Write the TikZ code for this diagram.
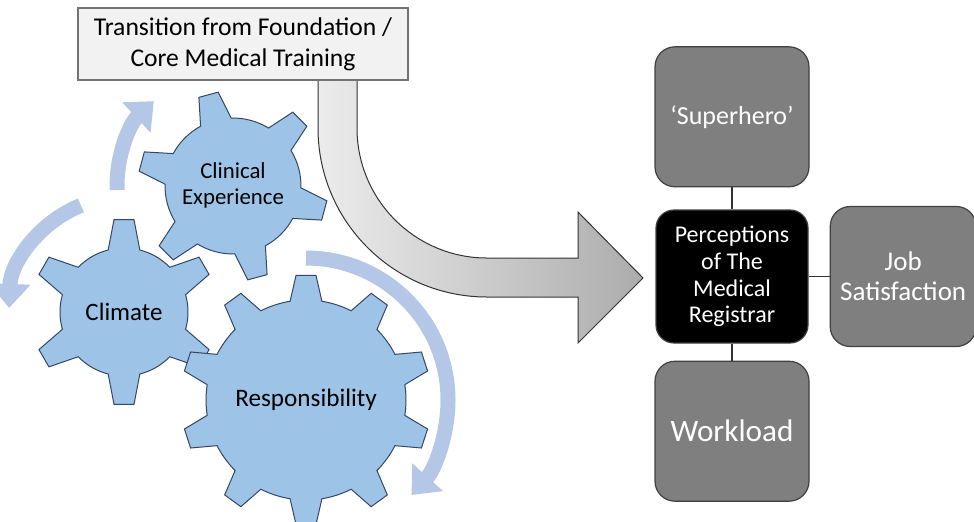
\documentclass[tikz,border=0pt]{standalone}
\usepackage{fontspec}
\setmainfont{Carlito}
\usepackage{tikz}
\usetikzlibrary{arrows.meta,positioning}

\definecolor{gearblue}{RGB}{157,195,230}
\definecolor{gearline}{RGB}{52,72,102}
\definecolor{turnblue}{RGB}{180,199,231}
\definecolor{themegray}{RGB}{127,127,127}
\definecolor{headgray}{RGB}{242,242,242}

\tikzset{
	gear/.style={fill=gearblue, draw=gearline, line width=0.5pt},
	geartext/.style={text=black, align=center, inner sep=0pt},
	turnarrow/.style={turnblue, line width=7.5pt, -{Triangle[width=20pt,length=12pt]}},
	theme/.style={rounded corners=10pt, fill=themegray, draw=black!75, line width=0.6pt,
		text=white, align=center, minimum width=77pt, minimum height=70pt, inner sep=2pt},
	link/.style={draw=black!80, line width=0.6pt}
}

% center x, center y, teeth, root radius, tip radius, rotation
\newcommand{\drawgear}[6]{
	\pgfmathsetmacro{\gstep}{360/#3}
	\pgfmathsetmacro{\gb}{deg(16/#4)}
	\pgfmathsetmacro{\gt}{deg(10/#5)}
	\pgfmathtruncatemacro{\glast}{#3-1}
	\begin{scope}[shift={(#1,#2)}]
		\draw[gear] ({#6-\gb}:#4)
		\foreach \i in {0,...,\glast} {
			-- ({#6+\i*\gstep-\gb}:#4) -- ({#6+\i*\gstep-\gt}:#5)
			-- ({#6+\i*\gstep+\gt}:#5) -- ({#6+\i*\gstep+\gb}:#4)
			arc[start angle={#6+\i*\gstep+\gb}, end angle={#6+(\i+1)*\gstep-\gb}, radius=#4]
		} -- cycle;
	\end{scope}
}

\begin{document}
\begin{tikzpicture}[x=0.5pt,y=0.5pt]
	\useasboundingbox (0,0) rectangle (974,-521);

	% curved transition arrow
	\shadedraw[left color=gray!15, right color=gray!65, draw=black!80, line width=0.5pt]
		(318,-70) -- (318,-128) arc[start angle=180, end angle=270, radius=169]
		-- (578,-297) -- (578,-343) -- (643,-278) -- (578,-212) -- (578,-258)
		-- (487,-258) arc[start angle=270, end angle=180, radius=130] -- (357,-70) -- cycle;

	\node[fill=headgray, draw=black!55, line width=0.6pt, minimum width=165pt, minimum height=36pt,
		align=center, inner sep=0pt, font=\fontsize{12.8}{15.5}\selectfont] (trans) at (243,-44)
		{Transition from Foundation /\\Core Medical Training};

	% turning arrows
	\draw[turnarrow] (233,-186) ++(182:116) arc[start angle=182, end angle=133, radius=116];
	\draw[turnarrow] (124,-312) ++(112:115) arc[start angle=112, end angle=178, radius=115];
	\draw[turnarrow] (306,-400) ++(90:142) arc[start angle=90, end angle=-42, radius=142];

	% gears
	\drawgear{233}{-186}{6}{68}{95}{105}
	\drawgear{124}{-312}{6}{64}{93}{90}
	\drawgear{306}{-400}{10}{100}{125}{90}
	\node[geartext, font=\fontsize{11.4}{13}\selectfont] (clin) at (233,-185) {Clinical\\Experience};
	\node[geartext, font=\fontsize{12.5}{15}\selectfont] (clim) at (124,-312) {Climate};
	\node[geartext, font=\fontsize{12.6}{15}\selectfont] (resp) at (306,-400) {Responsibility};

	% perceptions
	\node[theme, fill=black, minimum width=76pt, minimum height=66.5pt, rounded corners=9pt,
		font=\fontsize{12}{13.4}\selectfont] (perc) at (732,-276.5)
		{Perceptions\\of The\\Medical\\Registrar};
	\node[theme, above=11pt of perc, font=\fontsize{13}{15}\selectfont] (sup) {`Superhero'};
	\node[theme, right=10.5pt of perc, minimum width=73pt, font=\fontsize{13.5}{15}\selectfont] (job)
		{Job\\Satisfaction};
	\node[theme, below=8.5pt of perc, font=\fontsize{15.6}{18}\selectfont] (work) {Workload};
	\draw[link] (sup) -- (perc);
	\draw[link] (perc) -- (job);
	\draw[link] (perc) -- (work);
\end{tikzpicture}
\end{document}
